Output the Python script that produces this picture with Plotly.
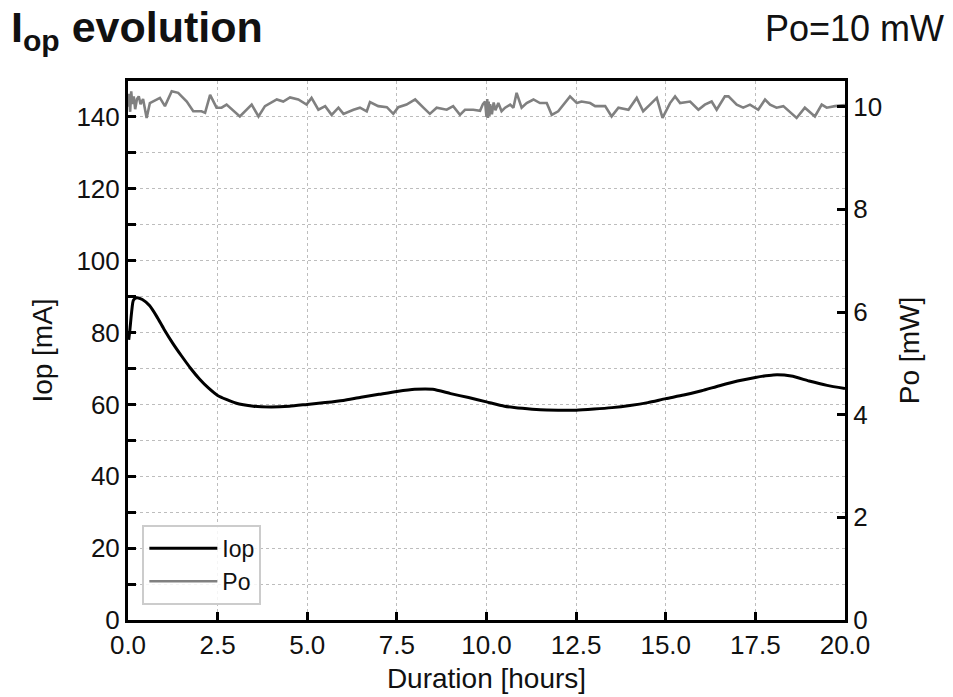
import plotly.graph_objects as go

# ---- data ----
iop_t = [0.02, 0.05, 0.10, 0.15, 0.24, 0.40, 0.60, 0.80, 1.00, 1.25, 1.50, 1.75, 2.00,
         2.25, 2.50, 3.00, 3.50, 4.00, 4.50, 5.00, 5.50, 6.00, 6.50, 7.00, 7.50, 8.00,
         8.50, 9.00, 9.50, 10.00, 10.50, 11.00, 11.50, 12.00, 12.50, 13.00, 13.50, 14.00,
         14.50, 15.00, 15.50, 16.00, 16.50, 17.00, 17.50, 18.00, 18.50, 19.00, 19.50, 20.00]
iop_ma = [78.0, 80.5, 85.6, 89.0, 89.7, 89.2, 87.5, 84.5, 81.0, 77.0, 73.4, 70.0, 67.0,
          64.5, 62.5, 60.4, 59.5, 59.3, 59.5, 60.0, 60.5, 61.1, 62.0, 62.8, 63.6, 64.2,
          64.2, 63.0, 61.9, 60.7, 59.5, 58.9, 58.5, 58.4, 58.4, 58.7, 59.1, 59.7,
          60.5, 61.6, 62.6, 63.8, 65.2, 66.5, 67.5, 68.2, 67.9, 66.5, 65.3, 64.4]

po_t = [0.00, 0.03, 0.06, 0.09, 0.12, 0.16, 0.20, 0.25, 0.30, 0.35, 0.42, 0.52, 0.61,
        0.89, 1.03, 1.22, 1.40, 1.64, 1.82, 2.05, 2.15, 2.29, 2.47, 2.61, 2.75, 3.12,
        3.45, 3.64, 3.82, 4.15, 4.33, 4.52, 4.75, 4.98, 5.12, 5.31, 5.50, 5.68, 5.87,
        6.01, 6.29, 6.47, 6.66, 6.75, 6.98, 7.22, 7.40, 7.54, 7.77, 8.01, 8.24, 8.42,
        8.61, 8.89, 9.07, 9.26, 9.40, 9.63, 9.82, 9.90, 9.96, 10.00, 10.02, 10.04,
        10.06, 10.08, 10.10, 10.15, 10.20, 10.25, 10.33, 10.42, 10.52, 10.66, 10.75,
        10.84, 10.98, 11.12, 11.31, 11.49, 11.68, 11.82, 12.00, 12.33, 12.52, 12.65,
        12.89, 13.03, 13.31, 13.49, 13.68, 13.96, 14.19, 14.37, 14.56, 14.75, 14.91,
        15.12, 15.26, 15.40, 15.68, 15.91, 16.09, 16.28, 16.42, 16.65, 16.75, 16.98,
        17.16, 17.35, 17.58, 17.77, 17.91, 18.09, 18.28, 18.65, 18.88, 19.16, 19.35,
        19.49, 19.72, 19.91, 20.00]
po_mw = [10.00, 10.25, 9.90, 10.30, 10.05, 10.20, 9.95, 10.15, 10.20, 10.05, 10.15, 9.78, 10.07,
         10.17, 10.01, 10.30, 10.27, 10.10, 9.91, 9.91, 9.88, 10.23, 9.98, 9.98, 10.04, 9.81,
         10.04, 9.81, 10.01, 10.14, 10.10, 10.18, 10.14, 10.04, 10.17, 9.94, 10.01, 9.84,
         9.98, 9.86, 9.94, 9.98, 9.91, 10.09, 10.01, 9.99, 9.86, 9.99, 10.04, 10.14, 9.98,
         9.86, 9.98, 9.94, 10.01, 9.84, 9.94, 9.94, 9.92, 10.05, 10.10, 9.80, 10.15, 9.78,
         10.10, 9.82, 10.05, 9.85, 10.08, 9.93, 10.07, 9.91, 9.98, 10.04, 9.98,
         10.27, 9.98, 10.07, 10.14, 10.07, 10.07, 9.84, 9.91, 10.20, 10.07, 10.10,
         10.07, 10.01, 10.01, 9.81, 9.98, 9.94, 10.17, 9.91, 10.04, 10.17, 9.78,
         10.07, 10.20, 10.07, 10.10, 9.94, 10.04, 10.10, 9.94, 10.20, 10.20, 10.04,
         9.98, 10.04, 9.94, 10.14, 10.04, 9.98, 10.01, 9.78, 9.98, 9.81, 10.04,
         9.98, 10.01, 10.02, 10.03]

x_ticks = [0, 2.5, 5, 7.5, 10, 12.5, 15, 17.5, 20]
x_tick_labels = ["0.0", "2.5", "5.0", "7.5", "10.0", "12.5", "15.0", "17.5", "20.0"]

FONT = "Liberation Sans, Arial, sans-serif"
GRID = "#bdbdbd"

fig = go.Figure()
fig.add_trace(go.Scatter(x=iop_t, y=iop_ma, name="Iop", mode="lines",
                         line=dict(color="#000000", width=3, shape="spline", smoothing=0.6),
                         yaxis="y"))
fig.add_trace(go.Scatter(x=po_t, y=po_mw, name="Po", mode="lines",
                         line=dict(color="#808080", width=2.6),
                         yaxis="y2"))

axis_common = dict(showline=True, linecolor="black", linewidth=3, automargin=False,
                   tickfont=dict(size=26, color="#111"), ticks="inside",
                   ticklen=8, tickwidth=2.5, tickcolor="black", zeroline=False)

fig.update_layout(
    width=953, height=697,
    margin=dict(l=128, r=108, t=81, b=77),
    paper_bgcolor="white", plot_bgcolor="white",
    font=dict(family=FONT, color="#111"),
    showlegend=True,
    legend=dict(x=0.02, y=0.028, xanchor="left", yanchor="bottom",
                bgcolor="rgba(255,255,255,0.85)", bordercolor="#cccccc", borderwidth=2,
                font=dict(size=23, color="#111"), itemwidth=68, tracegroupgap=4),
    xaxis=dict(range=[0, 20], tickvals=x_ticks, ticktext=x_tick_labels,
               mirror=True, showgrid=True, gridcolor=GRID, griddash="dot", gridwidth=1,
               title=dict(text="Duration [hours]", font=dict(size=28), standoff=10),
               **axis_common),
    yaxis=dict(range=[0, 150], dtick=20, tick0=0,
               showgrid=True, gridcolor=GRID, griddash="dot", gridwidth=1,
               minor=dict(dtick=10, ticks="inside", ticklen=8, tickwidth=2.5, tickcolor="black",
                          showgrid=True, gridcolor=GRID, griddash="dot", gridwidth=1),
               title=dict(text="Iop [mA]", font=dict(size=28), standoff=16),
               **axis_common),
    yaxis2=dict(range=[0, 10.5], dtick=2, tick0=0, overlaying="y", side="right",
                showgrid=False,
                title=dict(text="Po [mW]", font=dict(size=28), standoff=19),
                **axis_common),
)

fig.add_annotation(text="<b>I<sub>op</sub> evolution</b>", xref="paper", yref="paper",
                   x=0, y=1.0, xanchor="left", yanchor="middle", xshift=-119, yshift=51,
                   showarrow=False, font=dict(size=43, family=FONT, color="#111"))
fig.add_annotation(text="Po=10 mW", xref="paper", yref="paper",
                   x=1.0, y=1.0, xanchor="right", yanchor="middle", xshift=101, yshift=53,
                   showarrow=False, font=dict(size=36, family=FONT, color="#111"))

fig.write_html("out.html", config={"displayModeBar": False},
               post_script="document.body.style.margin='0px';document.body.style.overflow='hidden';")
